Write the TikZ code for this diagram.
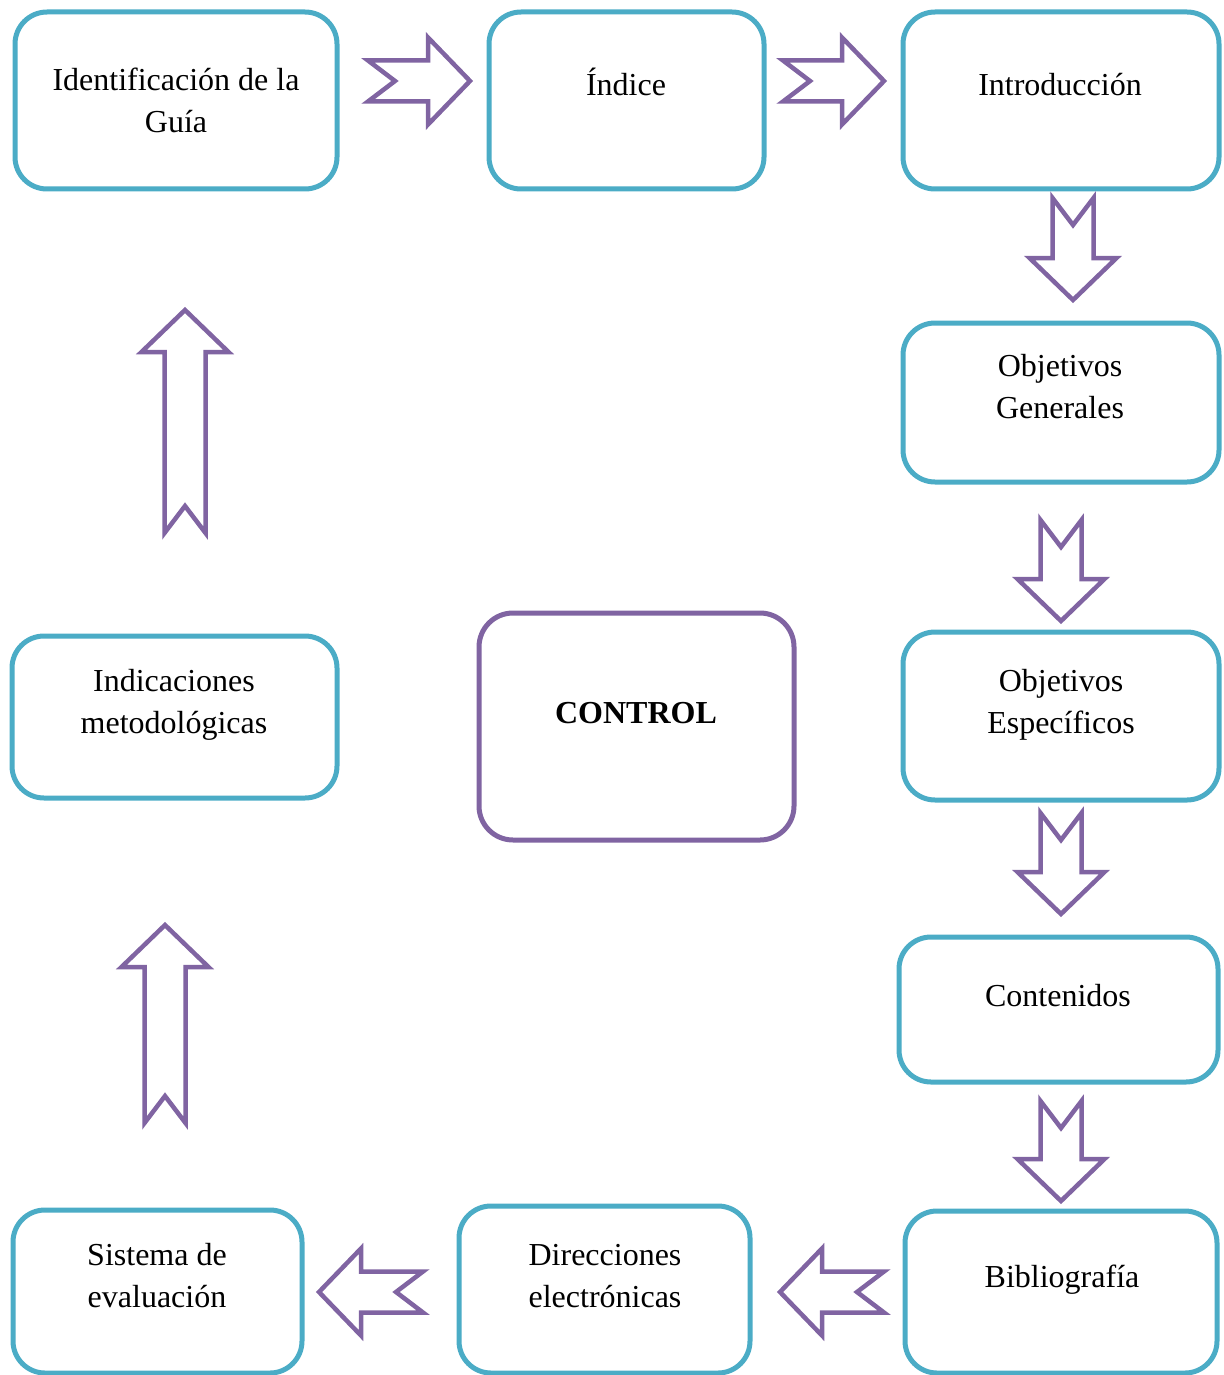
\documentclass[tikz,border=0pt]{standalone}
\usepackage{fontspec}
\setmainfont{Liberation Serif}
\usetikzlibrary{calc}
\definecolor{boxteal}{HTML}{4BACC6}
\definecolor{arrpurple}{HTML}{8064A2}
\tikzset{
  gbox/.style={draw=boxteal, line width=5pt, rounded corners=32pt, rectangle, inner sep=0pt, outer sep=0pt, fill=white},
  cbox/.style={draw=arrpurple, line width=5pt, rounded corners=34pt, rectangle, inner sep=0pt, outer sep=0pt, fill=white},
  lbl/.style={anchor=base, inner sep=0pt, font=\fontsize{32}{42}\selectfont},
  barrow/.style={draw=arrpurple, line width=4.5pt, line join=miter, fill=white}
}
\newcommand\blockarrow[2]{%
  \path ($(#2)!42pt!(#1)$) coordinate (hb) ($(#1)!27pt!(#2)$) coordinate (nt);
  \draw[barrow] ($(#1)!20.5pt!90:(#2)$) -- ($(hb)!20.5pt!-90:(#1)$) -- ($(hb)!43.5pt!-90:(#1)$) -- (#2)
    -- ($(hb)!43.5pt!90:(#1)$) -- ($(hb)!20.5pt!90:(#1)$) -- ($(#1)!20.5pt!-90:(#2)$) -- (nt) -- cycle;}
\begin{document}
\begin{tikzpicture}[x=1pt, y=-1pt]
\useasboundingbox (0,0) rectangle (1223,1375);
% boxes
\node[gbox, minimum width=322pt, minimum height=177pt] (ident) at (176,100.5) {};
\node[gbox, minimum width=275pt, minimum height=177pt] (indice) at (626.5,100.5) {};
\node[gbox, minimum width=316pt, minimum height=177pt] (intro) at (1061,100.5) {};
\node[gbox, minimum width=316pt, minimum height=159pt] (objgen) at (1061,402.5) {};
\node[gbox, minimum width=316pt, minimum height=168pt] (objesp) at (1061,716) {};
\node[gbox, minimum width=319pt, minimum height=145pt] (cont) at (1058.5,1009.5) {};
\node[gbox, minimum width=312pt, minimum height=162pt] (biblio) at (1061,1292) {};
\node[gbox, minimum width=291pt, minimum height=167pt] (direc) at (604.5,1289.5) {};
\node[gbox, minimum width=289pt, minimum height=163pt] (sist) at (157.5,1291.5) {};
\node[gbox, minimum width=325pt, minimum height=162pt] (indic) at (174.5,717) {};
\node[cbox, minimum width=315pt, minimum height=227pt] (control) at (636.5,726.5) {};
% labels
\node[lbl] (t1a) at (176,91) {Identificación de la};
\node[lbl] (t1b) at (176,133) {Guía};
\node[lbl] (t2) at (626,96) {Índice};
\node[lbl] (t3) at (1060,96) {Introducción};
\node[lbl] (t4a) at (1060,376) {Objetivos};
\node[lbl] (t4b) at (1060,418) {Generales};
\node[lbl] (t5a) at (1061,691) {Objetivos};
\node[lbl] (t5b) at (1061,733) {Específicos};
\node[lbl] (t6) at (1058,1006) {Contenidos};
\node[lbl] (t7) at (1062,1287) {Bibliografía};
\node[lbl] (t8a) at (605,1265) {Direcciones};
\node[lbl] (t8b) at (605,1307) {electrónicas};
\node[lbl] (t9a) at (157,1265) {Sistema de};
\node[lbl] (t9b) at (157,1307) {evaluación};
\node[lbl] (t10a) at (174,691) {Indicaciones};
\node[lbl] (t10b) at (174,733) {metodológicas};
\node[lbl, font=\fontsize{32}{42}\selectfont\bfseries] (t11) at (636,723) {CONTROL};
% arrow end points
\coordinate (a1s) at ($(ident.east)+(31,-19.5)$);
\coordinate (a1e) at ($(indice.west)+(-19,-19.5)$);
\coordinate (a2s) at ($(indice.east)+(19,-19.5)$);
\coordinate (a2e) at ($(intro.west)+(-19,-19.5)$);
\coordinate (a3s) at ($(intro.south)+(12,9)$);
\coordinate (a3e) at ($(objgen.north)+(12,-23)$);
\coordinate (a4s) at ($(objgen.south)+(0,38)$);
\coordinate (a4e) at ($(objesp.north)+(0,-11)$);
\coordinate (a5s) at ($(objesp.south)+(0,13)$);
\coordinate (a5e) at ($(cont.north)+(2.5,-23)$);
\coordinate (a6s) at ($(cont.south)+(2.5,19)$);
\coordinate (a6e) at ($(biblio.north)+(0,-10)$);
\coordinate (a7s) at ($(biblio.west)+(-21,0)$);
\coordinate (a7e) at ($(direc.east)+(30,2.5)$);
\coordinate (a8s) at ($(direc.west)+(-36,2.5)$);
\coordinate (a8e) at ($(sist.east)+(17,0.5)$);
\coordinate (a9s) at ($(sist.north)+(7.5,-87)$);
\coordinate (a9e) at ($(indic.south)+(-9.5,127)$);
\coordinate (a10s) at ($(indic.north)+(10.5,-103)$);
\coordinate (a10e) at ($(ident.south)+(9,121)$);
\blockarrow{a1s}{a1e}
\blockarrow{a2s}{a2e}
\blockarrow{a3s}{a3e}
\blockarrow{a4s}{a4e}
\blockarrow{a5s}{a5e}
\blockarrow{a6s}{a6e}
\blockarrow{a7s}{a7e}
\blockarrow{a8s}{a8e}
\blockarrow{a9s}{a9e}
\blockarrow{a10s}{a10e}
\end{tikzpicture}
\end{document}
